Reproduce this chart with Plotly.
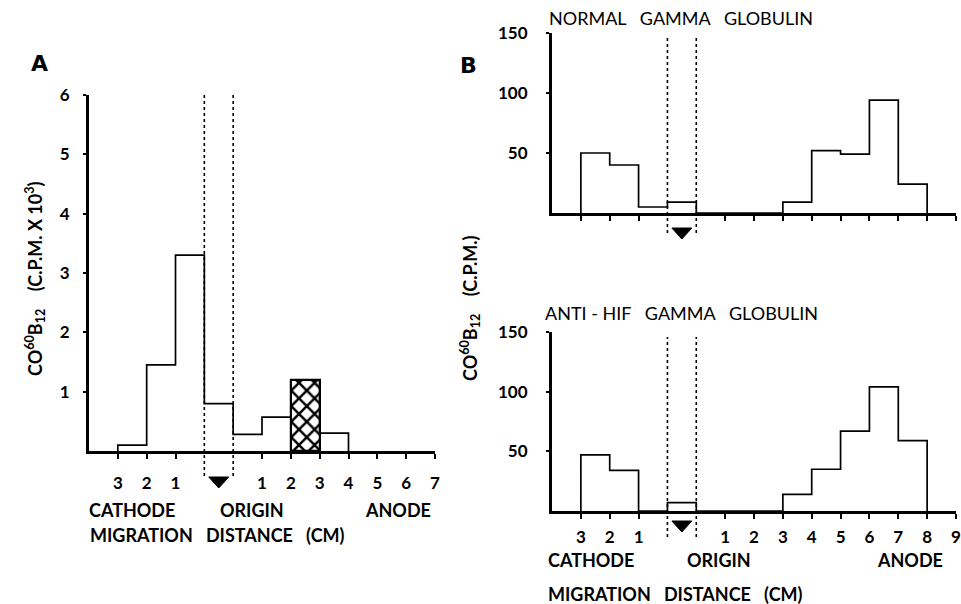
import numpy as np
import plotly.graph_objects as go

W, H = 961, 604

# ---------------- data ----------------
# Panel A: counts per 1-cm slot (slot index 0..11 across the strip), C.P.M. x 10^3
a_values = [0, 0.1, 1.45, 3.3, 0.8, 0.28, 0.57, 1.2, 0.3, 0, 0, 0]
a_hatched_slot = 7
a_tick_pos = [1, 2, 3, 6, 7, 8, 9, 10, 11, 12]
a_tick_text = ["3", "2", "1", "1", "2", "3", "4", "5", "6", "7"]
a_yticks = [1, 2, 3, 4, 5, 6]

# Panel B: C.P.M. per slot (slot index 0..13)
b_normal = [0, 50, 40, 5, 9, 0, 0, 0, 9, 52, 49, 94, 24, 0]
b_anti = [0, 47, 34, 0, 7, 0, 0, 0, 14, 35, 67, 104, 59, 0]
b_tick_pos = [1, 2, 3, 6, 7, 8, 9, 10, 11, 12, 13, 14]
b_tick_text = ["3", "2", "1", "1", "2", "3", "4", "5", "6", "7", "8", "9"]
b_yticks = [50, 100, 150]

origin_slot = 4  # origin well lies in slot 4..5

FONT = "Lato"


def px_x(p):
    return p / W


def px_y(p):
    return 1 - p / H


def step_xy(values):
    vals = list(values)
    nz = [i for i, v in enumerate(vals) if v != 0]
    first, last = nz[0], nz[-1]
    xs, ys = [first], [0]
    for i in range(first, last + 1):
        xs += [i, i + 1]
        ys += [vals[i], vals[i]]
    xs.append(last + 1)
    ys.append(0)
    return xs, ys


fig = go.Figure()

# Panel A
xa, ya = step_xy(a_values)
fig.add_trace(go.Bar(x=[a_hatched_slot + 0.5], y=[a_values[a_hatched_slot]], width=[1],
                     marker=dict(color="white",
                                 line=dict(color="black", width=2.2),
                                 pattern=dict(shape="x", fgcolor="black", bgcolor="white",
                                              size=11, solidity=0.4)),
                     xaxis="x", yaxis="y", showlegend=False))
fig.add_trace(go.Scatter(x=xa, y=ya, mode="lines", line=dict(color="black", width=1.7),
                         xaxis="x", yaxis="y", showlegend=False))

# Panel B top
xb, yb = step_xy(b_normal)
fig.add_trace(go.Scatter(x=xb, y=yb, mode="lines", line=dict(color="black", width=1.7),
                         xaxis="x2", yaxis="y2", showlegend=False))
# Panel B bottom
xc, yc = step_xy(b_anti)
fig.add_trace(go.Scatter(x=xc, y=yc, mode="lines", line=dict(color="black", width=1.7),
                         xaxis="x3", yaxis="y3", showlegend=False))

axis_common = dict(showline=True, linecolor="black", linewidth=3, showgrid=False,
                   zeroline=False, ticks="outside", tickcolor="black", tickwidth=1.5,
                   mirror=False)
tickfont = dict(family=FONT, size=17, color="black", weight="bold")

fig.update_layout(
    width=W, height=H,
    margin=dict(l=0, r=0, t=0, b=0),
    paper_bgcolor="white", plot_bgcolor="white",
    template="none",
    bargap=0,
    xaxis=dict(**axis_common, domain=[px_x(89), px_x(435)], range=[0, 12],
               tickvals=a_tick_pos, ticktext=a_tick_text, ticklen=5,
               tickfont=tickfont, ticklabelstandoff=10, anchor="y"),
    yaxis=dict(**axis_common, domain=[px_y(451), px_y(95)], range=[0, 6],
               tickvals=a_yticks, ticklen=3, tickfont=tickfont,
               ticklabelstandoff=10, anchor="x"),
    xaxis2=dict(**axis_common, domain=[px_x(552), px_x(956)], range=[0, 14],
                tickvals=b_tick_pos, ticklen=5, showticklabels=False, anchor="y2"),
    yaxis2=dict(**axis_common, domain=[px_y(213), px_y(33)], range=[0, 150],
                tickvals=b_yticks, ticklen=3, tickfont=tickfont,
                ticklabelstandoff=15, anchor="x2"),
    xaxis3=dict(**axis_common, domain=[px_x(552), px_x(956)], range=[0, 14],
                tickvals=b_tick_pos, ticktext=b_tick_text, ticklen=5,
                tickfont=tickfont, ticklabelstandoff=4, anchor="y3"),
    yaxis3=dict(**axis_common, domain=[px_y(511), px_y(332)], range=[0, 150],
                tickvals=b_yticks, ticklen=3, tickfont=tickfont,
                ticklabelstandoff=15, anchor="x3"),
)

# Origin dotted lines and triangles
dash_line = dict(color="black", width=1.6, dash="3px,3px")
for xref, top, bottom, base, tri_off in [("x", 92, 476, 451, 26),
                                         ("x2", 35, 233, 213, 15),
                                         ("x3", 337, 537, 511, 10)]:
    for xv in (origin_slot, origin_slot + 1):
        fig.add_shape(type="line", xref=xref, yref="paper", x0=xv, x1=xv,
                      y0=px_y(bottom), y1=px_y(top), line=dash_line)
    fig.add_shape(type="path", xref=xref, yref="paper", xsizemode="pixel", ysizemode="pixel",
                  xanchor=origin_slot + 0.5, yanchor=px_y(base),
                  path=f"M -10,{-tri_off} L 10,{-tri_off} L 0,{-tri_off - 11} Z",
                  fillcolor="black", line=dict(color="black", width=1))


def note(text, x, y, xanchor="left", size=18, weight="bold", angle=0, family=FONT):
    fig.add_annotation(text=text, x=px_x(x), y=px_y(y), xref="paper", yref="paper",
                       xanchor=xanchor, yanchor="middle", showarrow=False,
                       textangle=angle,
                       font=dict(family=family, size=size, color="black", weight=weight))


note("A", 39, 63, xanchor="center", size=22, weight="bold", family="DejaVu Sans")
note("B", 468, 65, xanchor="center", size=22, weight="bold", family="DejaVu Sans")
note("NORMAL   GAMMA   GLOBULIN", 547, 18, size=18, weight="normal")
note("ANTI - HIF   GAMMA   GLOBULIN", 543, 313, size=18, weight="normal")

note("CATHODE", 87, 510)
note("ORIGIN", 218, 510)
note("ANODE", 433, 510, xanchor="right")
note("MIGRATION   DISTANCE   (CM)", 88, 535)

note("CATHODE", 546, 560)
note("ORIGIN", 685, 560)
note("ANODE", 945, 560, xanchor="right")
note("MIGRATION   DISTANCE   (CM)", 546, 594)

fig.add_annotation(text="CO<sup>60</sup>B<sub>12</sub>    (C.P.M. X 10<sup>3</sup>)",
                   x=px_x(35), y=px_y(279), xref="paper", yref="paper",
                   xanchor="center", yanchor="middle", showarrow=False, textangle=-90,
                   font=dict(family=FONT, size=18, color="black", weight="bold"))
fig.add_annotation(text="CO<sup>60</sup>B<sub>12</sub>    (C.P.M.)",
                   x=px_x(470), y=px_y(308), xref="paper", yref="paper",
                   xanchor="center", yanchor="middle", showarrow=False, textangle=-90,
                   font=dict(family=FONT, size=18, color="black", weight="bold"))

fig.write_html("out.html", config={"displayModeBar": False},
               post_script="document.body.style.margin='0';")
